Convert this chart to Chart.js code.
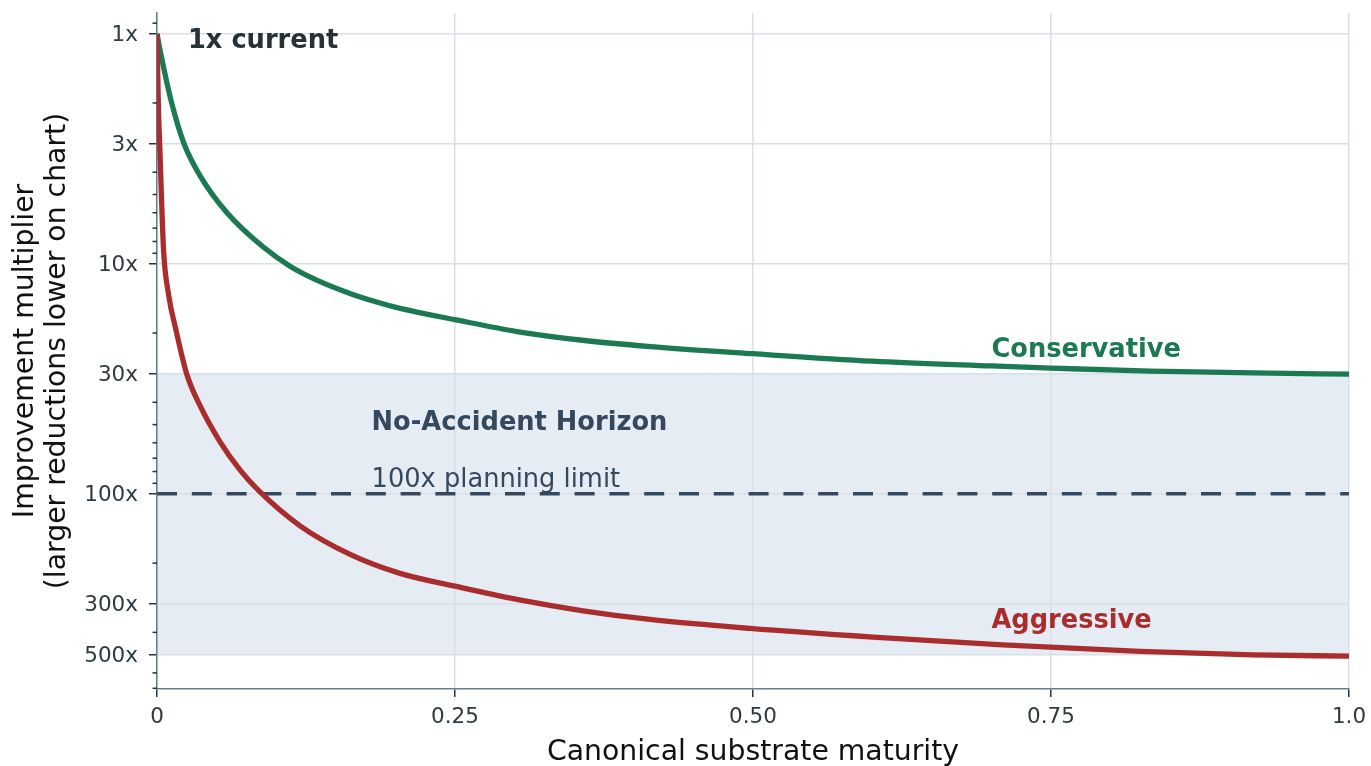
<!DOCTYPE html>
<html>
<head>
<meta charset="utf-8">
<title>Improvement multiplier vs canonical substrate maturity</title>
<script src="https://cdn.jsdelivr.net/npm/chart.js@4.4.1/dist/chart.umd.min.js"></script>
<style>
  html, body { margin: 0; padding: 0; background: #ffffff; }
  #wrap { width: 1371px; height: 766px; }
</style>
</head>
<body>
<div id="wrap"><canvas id="chart" width="1371" height="766"></canvas></div>
<script>
// values
const conservativeX = [0, 0.003, 0.0123, 0.0226, 0.0367, 0.0587, 0.0889, 0.1116, 0.134, 0.1619, 0.1843, 0.2039, 0.25, 0.302, 0.357, 0.414, 0.5, 0.6, 0.7, 0.75, 0.833, 0.92, 1.0];
const conservativeY = [1, 1.21, 2.0, 3.0, 4.19, 6.0, 8.44, 10.24, 11.77, 13.45, 14.66, 15.62, 17.5, 19.7, 21.5, 22.9, 24.6, 26.5, 27.8, 28.4, 29.3, 29.8, 30.2];

const aggressiveX = [0, 0.0011, 0.0025, 0.0055, 0.0095, 0.0165, 0.0249, 0.0361, 0.0529, 0.0696, 0.0847, 0.12, 0.162, 0.2039, 0.25, 0.3018, 0.3574, 0.4136, 0.4975, 0.6007, 0.7097, 0.8247, 0.9195, 1.0];
const aggressiveY = [1, 2.0, 3.29, 8.7, 13.4, 20.0, 30.1, 41.4, 59.4, 78.7, 96.2, 137.7, 183.3, 221.7, 252, 287.8, 322.3, 351.6, 384.6, 419.4, 453.5, 484.2, 501.2, 507];

const planningLimit = 100;
const horizonBand = [30, 500];

const yMajorTicks = [1, 3, 10, 30, 100, 300, 500];
const yMinorTicks = [0.9, 2, 4, 5, 6, 7, 8, 9, 20, 40, 50, 60, 70, 80, 90, 200, 400, 600, 700];
const yRange = [0.813, 705];
const xTicks = [0, 0.25, 0.5, 0.75, 1];
const xTickLabels = ['0', '0.25', '0.50', '0.75', '1.0'];

const FONT = "'DejaVu Sans', 'Liberation Sans', sans-serif";
const GREEN = '#1b7a52';
const RED = '#a92d2d';
const SLATE = '#34495e';
const GRID = '#d9dfe7';
const SPINE = '#627d8c';
const TICK = '#263238';

// text labels placed in data coordinates
const chartLabels = [
    { text: '1x current', x: 0.026, y: 1.046, color: '#263238', weight: 'bold' },
    { text: 'Conservative', x: 0.70, y: 23, color: GREEN, weight: 'bold' },
    { text: 'Aggressive', x: 0.70, y: 349, color: RED, weight: 'bold' },
    { text: 'No-Accident Horizon', x: 0.18, y: 48, color: SLATE, weight: 'bold' },
    { text: '100x planning limit', x: 0.18, y: 85, color: SLATE, weight: 'normal' }
];

const isMajor = v => yMajorTicks.some(m => Math.abs(m - v) < 1e-9);
const toPoints = (xs, ys) => xs.map((x, i) => ({ x: x, y: ys[i] }));

const bandPlugin = {
    id: 'band',
    beforeDraw(chart) {
        const { ctx, chartArea, scales } = chart;
        const y1 = scales.y.getPixelForValue(horizonBand[0]);
        const y2 = scales.y.getPixelForValue(horizonBand[1]);
        ctx.save();
        ctx.fillStyle = '#e5ecf4';
        ctx.fillRect(chartArea.left, Math.min(y1, y2), chartArea.right - chartArea.left, Math.abs(y2 - y1));
        ctx.restore();
    }
};

const minorTickPlugin = {
    id: 'minorTicks',
    afterDraw(chart) {
        const { ctx, chartArea, scales } = chart;
        ctx.save();
        ctx.strokeStyle = TICK;
        ctx.lineWidth = 1.5;
        yMinorTicks.forEach(v => {
            const py = scales.y.getPixelForValue(v);
            ctx.beginPath();
            ctx.moveTo(chartArea.left - 4.5, py);
            ctx.lineTo(chartArea.left, py);
            ctx.stroke();
        });
        ctx.restore();
    }
};

const labelPlugin = {
    id: 'textLabels',
    afterDatasetsDraw(chart) {
        const { ctx, scales } = chart;
        ctx.save();
        ctx.textAlign = 'left';
        ctx.textBaseline = 'middle';
        chartLabels.forEach(l => {
            ctx.font = l.weight + ' 25.7px ' + FONT;
            ctx.fillStyle = l.color;
            ctx.fillText(l.text, scales.x.getPixelForValue(l.x), scales.y.getPixelForValue(l.y) + 3);
        });
        ctx.restore();
    }
};

new Chart(document.getElementById('chart').getContext('2d'), {
    type: 'line',
    data: {
        datasets: [
            {
                label: 'Aggressive',
                data: toPoints(aggressiveX, aggressiveY),
                borderColor: RED,
                borderWidth: 5.3,
                pointRadius: 0,
                cubicInterpolationMode: 'monotone',
                order: 0
            },
            {
                label: 'Conservative',
                data: toPoints(conservativeX, conservativeY),
                borderColor: GREEN,
                borderWidth: 5.3,
                pointRadius: 0,
                cubicInterpolationMode: 'monotone',
                order: 1
            },
            {
                label: 'Planning limit',
                data: [{ x: xTicks[0], y: planningLimit }, { x: xTicks[xTicks.length - 1], y: planningLimit }],
                borderColor: SLATE,
                borderWidth: 3.5,
                borderDash: [20, 14.8],
                pointRadius: 0,
                order: 2
            }
        ]
    },
    options: {
        responsive: false,
        animation: false,
        layout: { padding: { top: 13, right: 22, left: 0, bottom: 0 } },
        plugins: {
            legend: { display: false },
            tooltip: { enabled: false }
        },
        scales: {
            x: {
                type: 'linear',
                min: 0,
                max: 1,
                afterBuildTicks: scale => { scale.ticks = xTicks.map(v => ({ value: v })); },
                afterFit: scale => {
                    scale.height = 77;
                    scale.paddingLeft = 0;
                    scale.paddingRight = 0;
                },
                ticks: {
                    callback: v => xTickLabels[xTicks.indexOf(v)],
                    font: { family: FONT, size: 21.5 },
                    color: '#2d3a40',
                    padding: 8,
                    maxRotation: 0
                },
                grid: {
                    color: GRID,
                    lineWidth: 1.5,
                    tickColor: TICK,
                    tickLength: 8,
                    tickWidth: 1.5
                },
                border: { color: SPINE, width: 1.5 },
                title: {
                    display: true,
                    text: 'Canonical substrate maturity',
                    font: { family: FONT, size: 28.3 },
                    color: '#111111',
                    padding: { top: 0, bottom: -4 }
                }
            },
            y: {
                type: 'logarithmic',
                reverse: true,
                min: yRange[0],
                max: yRange[1],
                afterBuildTicks: scale => { scale.ticks = yMajorTicks.concat(yMinorTicks).sort((a, b) => a - b).map(v => ({ value: v })); },
                afterFit: scale => {
                    scale.width = 157;
                    scale.paddingTop = 0;
                    scale.paddingBottom = 0;
                },
                ticks: {
                    autoSkip: false,
                    callback: v => isMajor(v) ? v + 'x' : '',
                    font: { family: FONT, size: 21.5 },
                    color: '#2d3a40',
                    padding: 11,
                    labelOffset: 2
                },
                grid: {
                    color: ctx => isMajor(ctx.tick.value) ? GRID : 'rgba(0,0,0,0)',
                    lineWidth: 1.5,
                    tickColor: ctx => isMajor(ctx.tick.value) ? TICK : 'rgba(0,0,0,0)',
                    tickLength: 8,
                    tickWidth: 1.5
                },
                border: { color: SPINE, width: 1.5 },
                title: {
                    display: true,
                    text: ['Improvement multiplier', '(larger reductions lower on chart)'],
                    font: { family: FONT, size: 28.3, lineHeight: 1.12 },
                    color: '#111111',
                    padding: { top: 10, bottom: 0 }
                }
            }
        }
    },
    plugins: [bandPlugin, minorTickPlugin, labelPlugin]
});
</script>
</body>
</html>
